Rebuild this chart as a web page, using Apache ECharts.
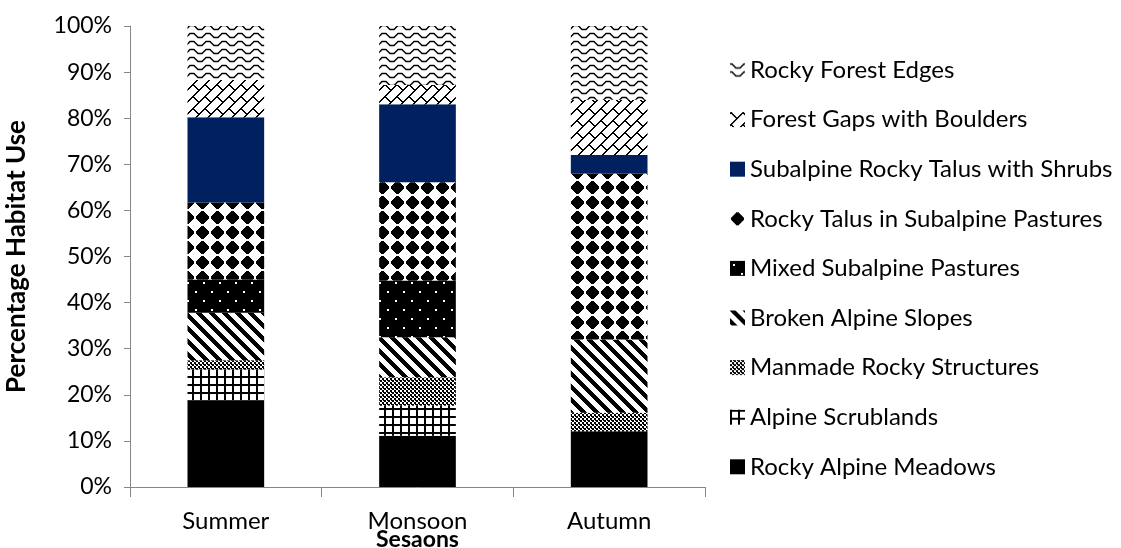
<!DOCTYPE html>
<html>
<head>
<meta charset="utf-8">
<script src="https://cdn.jsdelivr.net/npm/echarts@6/dist/echarts.min.js"></script>
<style>
  html, body { margin: 0; padding: 0; background: #ffffff; }
  #chart { width: 1121px; height: 548px; }
</style>
</head>
<body>
<div id="chart"></div>
<script>
// Seasons on the x axis
var seasons = ['Summer', 'Monsoon', 'Autumn'];

// Habitat categories, stacked bottom to top
var habitats = [
  'Rocky Alpine Meadows',
  'Alpine Scrublands',
  'Manmade Rocky Structures',
  'Broken Alpine Slopes',
  'Mixed Subalpine Pastures',
  'Rocky Talus in Subalpine Pastures',
  'Subalpine Rocky Talus with Shrubs',
  'Forest Gaps with Boulders',
  'Rocky Forest Edges'
];

// Percentage habitat use per season (Summer, Monsoon, Autumn)
var rockyAlpineMeadows        = [18.7, 11.1, 12.1];
var alpineScrublands          = [6.8, 6.5, 0];
var manmadeRockyStructures    = [2.0, 6.2, 4.0];
var brokenAlpineSlopes        = [10.3, 8.7, 15.9];
var mixedSubalpinePastures    = [7.2, 12.3, 0];
var rockyTalusSubalpinePast   = [16.7, 21.3, 36.0];
var subalpineTalusShrubs      = [18.5, 16.9, 4.0];
var forestGapsBoulders        = [8.1, 4.2, 12.0];
var rockyForestEdges          = [11.7, 12.8, 16.0];

// Y axis tick labels
var yTicks = ['0%', '10%', '20%', '30%', '40%', '50%', '60%', '70%', '80%', '90%', '100%'];

var seriesValues = [
  rockyAlpineMeadows, alpineScrublands, manmadeRockyStructures, brokenAlpineSlopes,
  mixedSubalpinePastures, rockyTalusSubalpinePast, subalpineTalusShrubs,
  forestGapsBoulders, rockyForestEdges
];

// ---- pattern tiles ----
function tile(w, h, paint) {
  var c = document.createElement('canvas');
  c.width = w; c.height = h;
  var ctx = c.getContext('2d');
  ctx.fillStyle = '#ffffff';
  ctx.fillRect(0, 0, w, h);
  ctx.fillStyle = '#000000';
  paint(ctx, w, h);
  return { image: c, repeat: 'repeat' };
}
function pixelTile(w, h, isBlack) {
  return tile(w, h, function (ctx) {
    for (var y = 0; y < h; y++) {
      for (var x = 0; x < w; x++) {
        if (isBlack(x, y)) ctx.fillRect(x, y, 1, 1);
      }
    }
  });
}
function mod(a, n) { return ((a % n) + n) % n; }

var fills = [
  '#000000',
  // open grid
  pixelTile(8, 8, function (x, y) { return x < 2 || y < 2; }),
  // fine checker
  pixelTile(4, 4, function (x, y) { return ((x >> 1) + (y >> 1)) % 2 === 0 || (x === 3 && y === 0); }),
  // wide downward diagonal
  pixelTile(13, 13, function (x, y) { return mod(x - y, 13) < 6; }),
  // black with white dots
  pixelTile(16, 18, function (x, y) {
    var dot = (x >= 3 && x < 5 && y >= 3 && y < 5) || (x >= 11 && x < 13 && y >= 12 && y < 14);
    return !dot;
  }),
  // rounded diamonds
  pixelTile(15, 15, function (x, y) {
    var dx = Math.abs(x - 7), dy = Math.abs(y - 7);
    return dx + dy <= 7.5 && dx * dx + dy * dy <= 37;
  }),
  '#002060',
  // diagonal brick
  pixelTile(24, 24, function (x, y) {
    var s = mod(x + y, 24), d = mod(x - y, 24);
    if (s % 12 === 0 || s % 12 === 1) return true;
    if (s < 12 && (d === 0 || d === 1)) return true;
    if (s >= 12 && (d === 12 || d === 13)) return true;
    return false;
  }),
  // waves
  tile(16, 8, function (ctx) {
    ctx.strokeStyle = '#000000';
    ctx.lineWidth = 1.4;
    ctx.beginPath();
    ctx.moveTo(-2, 1.5); ctx.lineTo(2, 1.5); ctx.lineTo(6, 5.5);
    ctx.lineTo(10, 5.5); ctx.lineTo(14, 1.5); ctx.lineTo(18, 1.5);
    ctx.stroke();
  })
];

var FONT = 'Lato, "Open Sans", sans-serif';

var series = habitats.map(function (name, i) {
  return {
    name: name,
    type: 'bar',
    stack: 'use',
    barWidth: '40%',
    data: seriesValues[i],
    itemStyle: { color: fills[i] },
    emphasis: { disabled: true }
  };
});

var chart = echarts.init(document.getElementById('chart'), null, { renderer: 'canvas' });
chart.setOption({
  animation: false,
  backgroundColor: '#ffffff',
  grid: { left: 130, right: 416, top: 26, bottom: 61, outerBoundsMode: 'none', containLabel: false },
  legend: {
    orient: 'vertical',
    left: 725,
    top: 52,
    itemWidth: 15,
    itemHeight: 15,
    itemGap: 23.6,
    icon: 'rect',
    data: habitats.slice().reverse(),
    textStyle: { fontFamily: FONT, fontSize: 24, lineHeight: 26, color: '#000000' }
  },
  xAxis: {
    type: 'category',
    data: seasons,
    name: 'Sesaons',
    nameLocation: 'middle',
    nameGap: 41,
    nameMoveOverlap: false,
    nameTextStyle: { fontFamily: FONT, fontSize: 23, fontWeight: 'bold', color: '#000000' },
    axisLine: { lineStyle: { color: '#868686', width: 1 } },
    axisTick: { show: true, length: 10, lineStyle: { color: '#868686' } },
    axisLabel: { margin: 22, fontFamily: FONT, fontSize: 24, color: '#000000' }
  },
  yAxis: {
    type: 'value',
    min: 0,
    max: 100,
    interval: 10,
    name: 'Percentage Habitat Use',
    nameLocation: 'middle',
    nameGap: 100,
    nameMoveOverlap: false,
    nameTextStyle: { fontFamily: FONT, fontSize: 26, fontWeight: 'bold', color: '#000000' },
    axisLine: { show: true, lineStyle: { color: '#868686', width: 1 } },
    axisTick: { show: true, length: 6, lineStyle: { color: '#868686' } },
    splitLine: { show: false },
    axisLabel: {
      margin: 18,
      fontFamily: FONT,
      fontSize: 23,
      color: '#000000',
      formatter: function (v) { return yTicks[Math.round(v / 10)]; }
    }
  },
  series: series
});
</script>
</body>
</html>
